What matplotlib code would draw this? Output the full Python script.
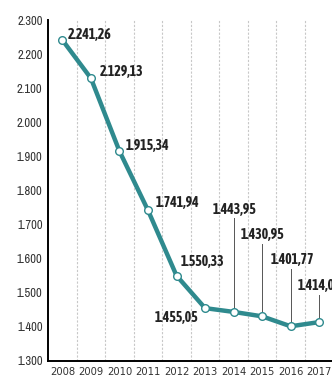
import matplotlib.pyplot as plt

years = [2008, 2009, 2010, 2011, 2012, 2013, 2014, 2015, 2016, 2017]
values = [2241.26, 2129.13, 1915.34, 1741.94, 1550.33, 1455.05, 1443.95, 1430.95, 1401.77, 1414.07]
yticks = [1300, 1400, 1500, 1600, 1700, 1800, 1900, 2000, 2100, 2200, 2300]

teal = '#2f8a8e'
cond_bold = ['Asap Condensed', 'Archivo Narrow', 'DejaVu Sans']
cond = ['Archivo Narrow', 'Liberation Sans Narrow', 'DejaVu Sans']


def eu(v, dec=2):
    s = f"{v:,.{dec}f}"
    return s.replace(',', 'X').replace('.', ',').replace('X', '.')


fig = plt.figure(figsize=(3.32, 3.78), dpi=100)
ax = fig.add_axes([0.145, 0.045, 0.855, 0.902])

# dashed separators between years
for y in years[:-1]:
    ax.axvline(y + 0.5, color='#c8c8c8', linestyle=(0, (2, 1.5)), linewidth=0.8, zorder=0)

ax.plot(years, values, color=teal, linewidth=3.2, solid_capstyle='round', zorder=2,
        marker='o', markersize=5.5, markerfacecolor='white', markeredgecolor=teal,
        markeredgewidth=1.0)

# label positions (x, y, ha, leader line)
label_pos = [
    (2008.17, 2256, 'left', False),
    (2009.31, 2147, 'left', False),
    (2010.22, 1930, 'left', False),
    (2011.28, 1763, 'left', False),
    (2012.13, 1590, 'left', False),
    (2012.76, 1426, 'right', False),
    (2014.03, 1743, 'center', True),
    (2015.0, 1669, 'center', True),
    (2016.05, 1596, 'center', True),
    (2017.0, 1520, 'center', True),
]
for yr, v, (tx, ty, ha, lead) in zip(years, values, label_pos):
    ax.text(tx, ty, eu(v), ha=ha, va='center', fontsize=10, fontweight='bold',
            family=cond_bold, color='#222222', zorder=4, clip_on=False)
    if lead:
        ax.plot([yr, yr], [ty - 25, v + 6], color='#555555', linewidth=0.7, zorder=1)

ax.set_xlim(2007.5, 2017.45)
ax.set_ylim(1300, 2300)
ax.set_yticks(yticks)
ax.set_yticklabels([eu(t, 0) for t in yticks], family=cond, fontsize=9, color='#333333')
ax.set_xticks(years)
ax.set_xticklabels([str(y) for y in years], fontsize=7.2, color='#333333')
ax.tick_params(length=0, pad=4)
ax.spines['top'].set_visible(False)
ax.spines['right'].set_visible(False)
ax.spines['left'].set_linewidth(1.4)
ax.spines['bottom'].set_linewidth(1.4)

plt.savefig('out.png', dpi=100)
